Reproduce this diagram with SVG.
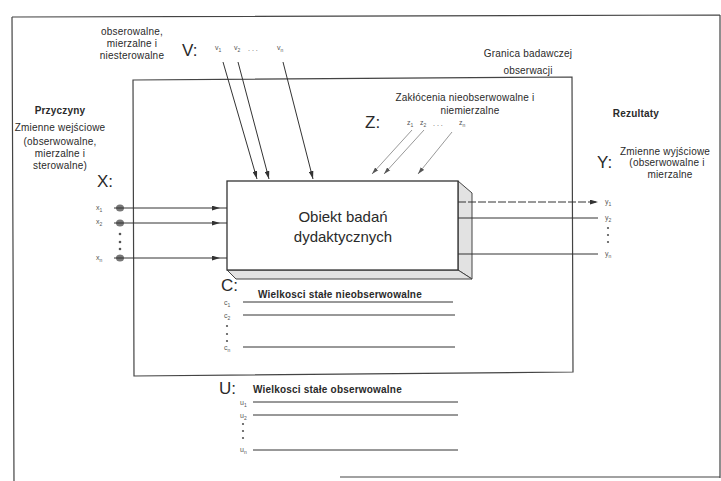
<svg xmlns="http://www.w3.org/2000/svg" width="721" height="481" viewBox="0 0 721 481">
<style>
text{font-family:"Liberation Sans",Arial,sans-serif;fill:#2a2a2a}
.s{font-size:10px;letter-spacing:0.2px}
.b{font-weight:bold}
.big{font-size:17px}
.sub{font-size:7px;fill:#555}
.ln{stroke:#333;stroke-width:1;fill:none}
.fr{stroke:#444;stroke-width:1.2;fill:none}
.fz{stroke:#999;stroke-width:1;fill:none}
.dot{fill:#555}
</style>
<defs>
<marker id="arr" viewBox="0 0 10 6" refX="10" refY="3" markerWidth="8" markerHeight="5" orient="auto" markerUnits="userSpaceOnUse"><path d="M0,0 L10,3 L0,6 z" fill="#333"/></marker>
<marker id="arrg" viewBox="0 0 10 6" refX="10" refY="3" markerWidth="7" markerHeight="5" orient="auto" markerUnits="userSpaceOnUse"><path d="M0,0 L10,3 L0,6 z" fill="#555"/></marker>
</defs>
<rect width="721" height="481" fill="#fff"/>

<g id="frame">
<path class="fr" d="M12,17 L720,15 M12,17 L14,481 M720,15 L720,478 M340,477 L720,477"/>
</g>

<g id="boundary">
<path class="fr" d="M133,80 L572,77 L573,372 L134,376 Z"/>
<text class="s" x="528" y="57" text-anchor="middle">Granica badawczej</text>
<text class="s" x="528" y="74" text-anchor="middle">obserwacji</text>
</g>

<g id="object">
<polygon points="458,181 472,193 472,279 458,270" fill="#e2e2e2" stroke="#444"/>
<polygon points="227,270 236,279 472,279 458,270" fill="#e2e2e2" stroke="#444"/>
<rect x="227" y="181" width="231" height="89" fill="#fff" stroke="#333" stroke-width="1.3"/>
<text x="343" y="222" font-size="15" text-anchor="middle">Obiekt badań</text>
<text x="343" y="242" font-size="15" text-anchor="middle">dydaktycznych</text>
</g>

<g id="inputs-x">
<text class="s b" x="60" y="114" text-anchor="middle">Przyczyny</text>
<text class="s" x="60" y="131" text-anchor="middle">Zmienne wejściowe</text>
<text class="s" x="60" y="145" text-anchor="middle">(obserwowalne,</text>
<text class="s" x="60" y="157" text-anchor="middle">mierzalne i</text>
<text class="s" x="60" y="169" text-anchor="middle">sterowalne)</text>
<text class="big" x="97" y="187">X:</text>
<text class="sub" x="96" y="210">x<tspan font-size="5" dy="2">1</tspan></text>
<text class="sub" x="96" y="224">x<tspan font-size="5" dy="2">2</tspan></text>
<text class="sub" x="96" y="260">x<tspan font-size="5" dy="2">n</tspan></text>
<ellipse cx="120" cy="208" rx="4" ry="3.5" fill="#777"/>
<ellipse cx="120" cy="223" rx="4" ry="3.5" fill="#777"/>
<ellipse cx="120" cy="258" rx="4" ry="3.5" fill="#777"/>
<circle class="dot" cx="120" cy="234" r="1.3"/>
<circle class="dot" cx="120" cy="242" r="1.3"/>
<circle class="dot" cx="120" cy="249" r="1.3"/>
</g>

<g id="inputs-v">
<text class="s" x="132" y="35" text-anchor="middle">obserowalne,</text>
<text class="s" x="132" y="47" text-anchor="middle">mierzalne i</text>
<text class="s" x="132" y="59" text-anchor="middle">niesterowalne</text>
<text class="big" x="182" y="56">V:</text>
<text class="sub" x="215" y="50">v<tspan font-size="5" dy="2">1</tspan></text>
<text class="sub" x="234" y="50">v<tspan font-size="5" dy="2">2</tspan></text>
<text class="sub" x="248" y="51">. . .</text>
<text class="sub" x="277" y="50">v<tspan font-size="5" dy="2">n</tspan></text>
</g>

<g id="disturbances-z">
<text class="s" x="465" y="101" text-anchor="middle">Zakłócenia nieobserwowalne i</text>
<text class="s" x="470" y="114" text-anchor="middle">niemierzalne</text>
<text class="big" x="365" y="128">Z:</text>
<text class="sub" x="407" y="125">z<tspan font-size="5" dy="2">1</tspan></text>
<text class="sub" x="420" y="125">z<tspan font-size="5" dy="2">2</tspan></text>
<text class="sub" x="433" y="126">. . .</text>
<text class="sub" x="459" y="125">z<tspan font-size="5" dy="2">n</tspan></text>
</g>

<g id="outputs-y">
<text class="s b" x="636" y="117" text-anchor="middle">Rezultaty</text>
<text class="s" x="620" y="155">Zmienne wyjściowe</text>
<text class="s" x="667" y="166" text-anchor="middle">(obserwowalne i</text>
<text class="s" x="670" y="178" text-anchor="middle">mierzalne</text>
<text class="big" x="597" y="168">Y:</text>
<text class="sub" x="605" y="204">y<tspan font-size="5" dy="2">1</tspan></text>
<text class="sub" x="605" y="220">y<tspan font-size="5" dy="2">2</tspan></text>
<text class="sub" x="605" y="256">y<tspan font-size="5" dy="2">n</tspan></text>
<circle class="dot" cx="608" cy="228" r="1.1"/>
<circle class="dot" cx="608" cy="235" r="1.1"/>
<circle class="dot" cx="608" cy="242" r="1.1"/>
</g>

<g id="constants-c">
<text class="big" x="221" y="291">C:</text>
<text class="s b" x="258" y="298">Wielkosci stałe nieobserwowalne</text>
<text class="sub" x="224" y="305">c<tspan font-size="5" dy="2">1</tspan></text>
<text class="sub" x="224" y="318">c<tspan font-size="5" dy="2">2</tspan></text>
<text class="sub" x="224" y="350">c<tspan font-size="5" dy="2">n</tspan></text>
<circle class="dot" cx="227" cy="326" r="1.1"/>
<circle class="dot" cx="227" cy="334" r="1.1"/>
<circle class="dot" cx="227" cy="341" r="1.1"/>
<path class="ln" d="M243,302 H453 M243,315 H455 M243,347 H455"/>
</g>

<g id="constants-u">
<text class="big" x="219" y="394">U:</text>
<text class="s b" x="253" y="393">Wielkosci stałe obserwowalne</text>
<text class="sub" x="240" y="405">u<tspan font-size="5" dy="2">1</tspan></text>
<text class="sub" x="240" y="418">u<tspan font-size="5" dy="2">2</tspan></text>
<text class="sub" x="240" y="452">u<tspan font-size="5" dy="2">n</tspan></text>
<circle class="dot" cx="243" cy="424" r="1.1"/>
<circle class="dot" cx="243" cy="431" r="1.1"/>
<circle class="dot" cx="243" cy="438" r="1.1"/>
<path class="ln" d="M253,402 H458 M253,415 H458 M253,450 H458"/>
</g>

<g id="connectors">
<polyline class="ln" points="114,208 220,208 227,208" marker-mid="url(#arr)"/>
<polyline class="ln" points="114,223 220,223 227,223" marker-mid="url(#arr)"/>
<polyline class="ln" points="114,258 220,258 227,258" marker-mid="url(#arr)"/>
<line class="ln" x1="223" y1="62" x2="257" y2="179" marker-end="url(#arr)"/>
<line class="ln" x1="238" y1="62" x2="269" y2="179" marker-end="url(#arr)"/>
<line class="ln" x1="283" y1="62" x2="313" y2="179" marker-end="url(#arr)"/>
<line class="fz" x1="412" y1="130" x2="372" y2="174" marker-end="url(#arrg)"/>
<line class="fz" x1="424" y1="130" x2="384" y2="174" marker-end="url(#arrg)"/>
<line class="fz" x1="452" y1="132" x2="418" y2="174" marker-end="url(#arrg)"/>
<line class="ln" x1="458" y1="202" x2="598" y2="202" stroke="#777" stroke-dasharray="8 2" marker-end="url(#arr)"/>
<line class="ln" x1="458" y1="218" x2="598" y2="218"/>
<line class="ln" x1="458" y1="254" x2="598" y2="254"/>
</g>
</svg>
